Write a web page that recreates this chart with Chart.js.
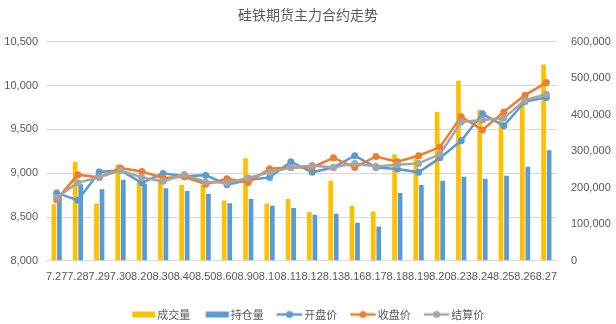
<!DOCTYPE html>
<html>
<head>
<meta charset="utf-8">
<script src="https://cdn.jsdelivr.net/npm/chart.js@4"></script>
<style>
  html, body { margin: 0; padding: 0; background: #fff; }
  #wrap { width: 616px; height: 324px; }
</style>
</head>
<body>
<div id="wrap"><canvas id="futures"></canvas></div>
<script>
// trading days
var labels = ['7.27', '7.28', '7.29', '7.30', '8.20', '8.30', '8.40', '8.50', '8.60', '8.90', '8.10', '8.11',
    '8.12', '8.13', '8.16', '8.17', '8.18', '8.19', '8.20', '8.23', '8.24', '8.25', '8.26', '8.27'];

// 成交量 / 持仓量 (right axis)
var volume = [155000, 271000, 157000, 264000, 218000, 219000, 208000, 208000, 165000, 281000, 157000, 169000,
    134000, 219000, 151000, 135000, 292000, 280000, 408000, 493000, 414000, 390000, 435000, 538000];
var openInterest = [180000, 210000, 196000, 222000, 211000, 199000, 191000, 184000, 158000, 169000, 151000, 145000,
    126000, 129000, 104000, 94000, 186000, 208000, 219000, 230000, 225000, 233000, 258000, 303000];

// 开盘价 / 收盘价 / 结算价 (left axis)
var openPrice = [8775, 8690, 9014, 9033, 8890, 8998, 8965, 8978, 8869, 8922, 8952, 9131,
    9010, 9066, 9199, 9066, 9048, 9010, 9175, 9370, 9678, 9541, 9818, 9863];
var closePrice = [8698, 8983, 8952, 9060, 9019, 8945, 8960, 8875, 8937, 8895, 9051, 9066,
    9066, 9176, 9066, 9191, 9131, 9199, 9298, 9644, 9493, 9700, 9891, 10034];
var settlePrice = [8724, 8892, 8952, 9033, 8952, 8907, 8985, 8900, 8892, 8945, 9010, 9066,
    9089, 9066, 9112, 9077, 9097, 9112, 9215, 9585, 9606, 9629, 9834, 9902];

var YELLOW = '#FFC000', BLUE = '#5B9BD5', ORANGE = '#ED7D31', GREY = '#A5A5A5';
var TEXT = '#595959', GRID = '#D9D9D9';
var numFont = { family: 'Liberation Sans', size: 11 };
var cjkFont = { family: 'Noto Sans CJK SC', size: 11 };

// legend swatches: canvas is drawn centred on a 20px box, so the mark is
// offset to sit right up against the label text
function legendIcon(color, isBar) {
    var c = document.createElement('canvas');
    c.width = 40; c.height = 10;
    var g = c.getContext('2d');
    if (isBar) {
        g.fillStyle = color;
        g.fillRect(10.5, 2, 23, 6);
    } else {
        g.strokeStyle = color;
        g.lineWidth = 2.5;
        g.beginPath(); g.moveTo(8, 5); g.lineTo(33.5, 5); g.stroke();
        g.fillStyle = color;
        g.beginPath(); g.arc(20.75, 5, 3.5, 0, Math.PI * 2); g.fill();
    }
    return c;
}
var icons = [legendIcon(YELLOW, true), legendIcon(BLUE, true), legendIcon(BLUE, false),
    legendIcon(ORANGE, false), legendIcon(GREY, false)];

function lineSet(label, data, color, order) {
    return {
        type: 'line', label: label, data: data, yAxisID: 'y', order: order,
        borderColor: color, backgroundColor: color, borderWidth: 2.5,
        pointRadius: 3.5, pointBackgroundColor: color, pointBorderColor: color, pointBorderWidth: 0,
        tension: 0
    };
}

var ctx = document.getElementById('futures').getContext('2d');
window.chart = new Chart(ctx, {
    type: 'bar',
    data: {
        labels: labels,
        datasets: [
            { label: '成交量', data: volume, yAxisID: 'y2', order: 4, backgroundColor: YELLOW,
                categoryPercentage: 0.52, barPercentage: 0.85 },
            { label: '持仓量', data: openInterest, yAxisID: 'y2', order: 5, backgroundColor: BLUE,
                categoryPercentage: 0.52, barPercentage: 0.85 },
            lineSet('开盘价', openPrice, BLUE, 3),
            lineSet('收盘价', closePrice, ORANGE, 2),
            lineSet('结算价', settlePrice, GREY, 1)
        ]
    },
    options: {
        responsive: true,
        maintainAspectRatio: false,
        animation: false,
        layout: { padding: { left: 4, right: 4, top: 2, bottom: -6 } },
        plugins: {
            title: {
                display: true, text: '硅铁期货主力合约走势', color: TEXT,
                font: { family: 'Noto Sans CJK SC', size: 14, weight: 'normal' },
                padding: { top: 4, bottom: 19 }
            },
            legend: {
                position: 'bottom',
                labels: {
                    color: TEXT, font: cjkFont, usePointStyle: true, pointStyleWidth: 20,
                    boxHeight: 10, padding: 15,
                    sort: function (a, b) { return a.datasetIndex - b.datasetIndex; },
                    generateLabels: function (chart) {
                        var items = Chart.defaults.plugins.legend.labels.generateLabels(chart);
                        items.forEach(function (it) { it.pointStyle = icons[it.datasetIndex]; });
                        return items;
                    }
                }
            },
            tooltip: { enabled: false }
        },
        scales: {
            x: {
                grid: { display: false, drawTicks: false },
                border: { color: GRID },
                ticks: { color: TEXT, font: numFont, autoSkip: false, maxRotation: 0, minRotation: 0, padding: 10 }
            },
            y: {
                position: 'left', min: 8000, max: 10500,
                grid: { color: GRID, drawTicks: false },
                border: { display: false },
                afterFit: function (s) { s.width = 42; },
                ticks: {
                    stepSize: 500, color: TEXT, font: numFont, padding: 8,
                    callback: function (v) { return v.toLocaleString('en-US'); }
                }
            },
            y2: {
                position: 'right', min: 0, max: 600000,
                grid: { drawOnChartArea: false, drawTicks: false },
                border: { display: false },
                afterFit: function (s) { s.width = 55; },
                ticks: {
                    stepSize: 100000, color: TEXT, font: numFont, padding: 14,
                    callback: function (v) { return v.toLocaleString('en-US'); }
                }
            }
        }
    }
});
</script>
</body>
</html>
